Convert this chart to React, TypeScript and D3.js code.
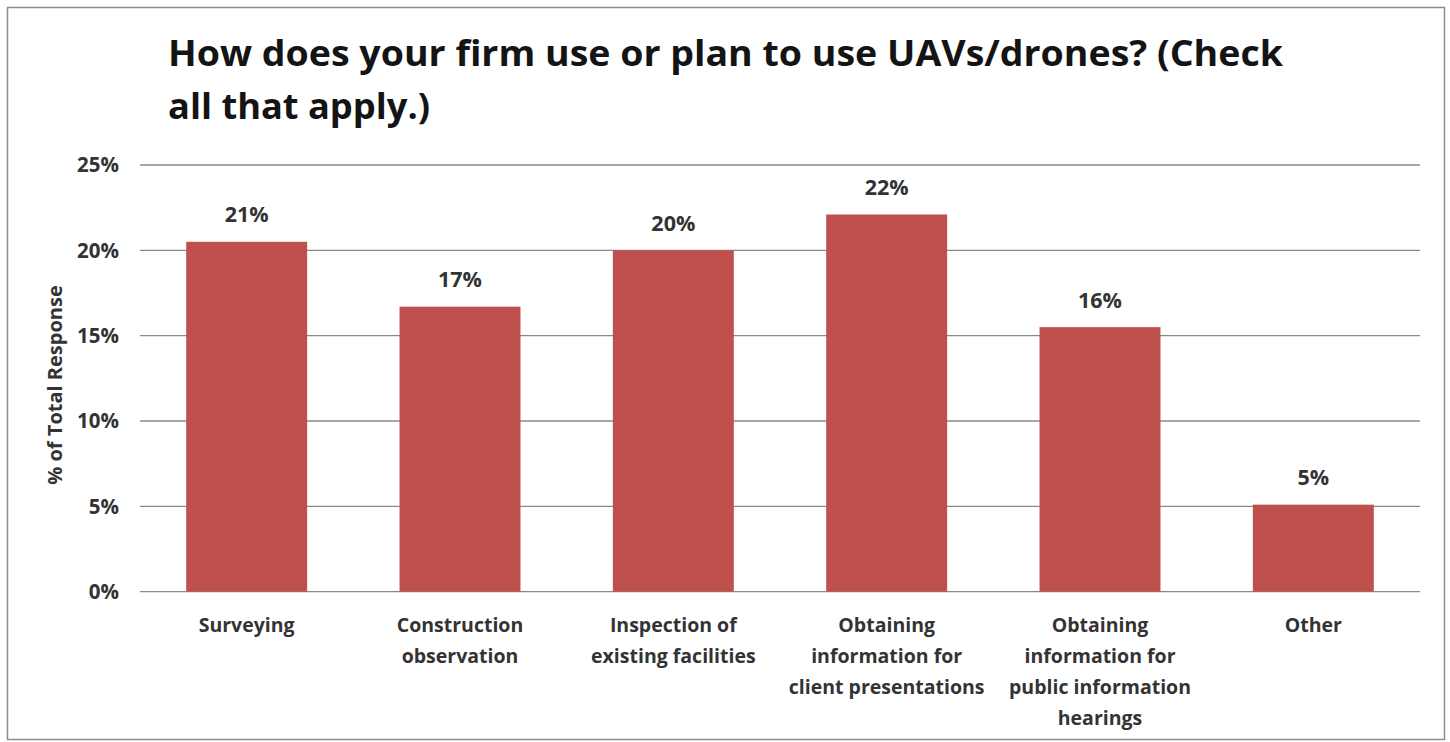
import React from "react";
import * as d3 from "d3";

const categories = [
  "Surveying",
  "Construction observation",
  "Inspection of existing facilities",
  "Obtaining information for client presentations",
  "Obtaining information for public information hearings",
  "Other",
];
const categoryLines = [
  ["Surveying"],
  ["Construction", "observation"],
  ["Inspection of", "existing facilities"],
  ["Obtaining", "information for", "client presentations"],
  ["Obtaining", "information for", "public information", "hearings"],
  ["Other"],
];
const values = [0.205, 0.167, 0.2, 0.221, 0.155, 0.051];
const valueLabels = ["21%", "17%", "20%", "22%", "16%", "5%"];
const yTicks = [0, 0.05, 0.1, 0.15, 0.2, 0.25];
const titleLines = [
  "How does your firm use or plan to use UAVs/drones? (Check",
  "all that apply.)",
];
const yAxisTitle = "% of Total Response";

const W = 1450;
const H = 742;
const FONT = "'Open Sans', 'DejaVu Sans', sans-serif";

export default function App() {
  const x = d3
    .scaleBand<string>()
    .domain(categories)
    .range([140, 1420])
    .paddingInner(0.433)
    .paddingOuter(0.2165);
  const y = d3.scaleLinear().domain([0, 0.25]).range([591.7, 165]);
  const fmt = d3.format(".0%");
  const titleLens = [1115, 262];

  return (
    <svg
      width={W}
      height={H}
      style={{ position: "absolute", left: 0, top: 0, background: "#fff" }}
      fontFamily={FONT}
    >
      <rect x={0} y={0} width={W} height={H} fill="#fff" />
      <rect x={7.5} y={7.5} width={1437} height={732} fill="none" stroke="#8c8c8c" strokeWidth={1.5} />

      {titleLines.map((t, i) => (
        <text
          key={i}
          x={168}
          y={66 + i * 53}
          fontSize={36}
          fontWeight={700}
          fill="#141414"
          textLength={titleLens[i]}
          lengthAdjust="spacingAndGlyphs"
        >
          {t}
        </text>
      ))}

      {yTicks.map((t) => (
        <g key={t}>
          <line x1={140} x2={1420} y1={y(t)} y2={y(t)} stroke="#8a8a8a" strokeWidth={1.3} />
          <text
            x={119}
            y={y(t)}
            dy="0.35em"
            textAnchor="end"
            fontSize={20.5}
            fontWeight={700}
            fill="#333"
          >
            {fmt(t)}
          </text>
        </g>
      ))}

      <text
        transform={`translate(55,385) rotate(-90)`}
        textAnchor="middle"
        dy="0.35em"
        fontSize={20}
        fontWeight={700}
        fill="#333"
      >
        {yAxisTitle}
      </text>

      {categories.map((c, i) => (
        <g key={c}>
          <rect
            x={x(c)!}
            y={y(values[i])}
            width={x.bandwidth()}
            height={y(0) - y(values[i])}
            fill="#C0504D"
          />
          <text
            x={x(c)! + x.bandwidth() / 2}
            y={y(values[i]) - 27}
            dy="0.35em"
            textAnchor="middle"
            fontSize={21.5}
            fontWeight={700}
            fill="#333"
          >
            {valueLabels[i]}
          </text>
          {categoryLines[i].map((ln, j) => (
            <text
              key={j}
              x={x(c)! + x.bandwidth() / 2}
              y={625 + j * 31}
              dy="0.35em"
              textAnchor="middle"
              fontSize={19.5}
              fontWeight={700}
              fill="#333"
            >
              {ln}
            </text>
          ))}
        </g>
      ))}
    </svg>
  );
}
